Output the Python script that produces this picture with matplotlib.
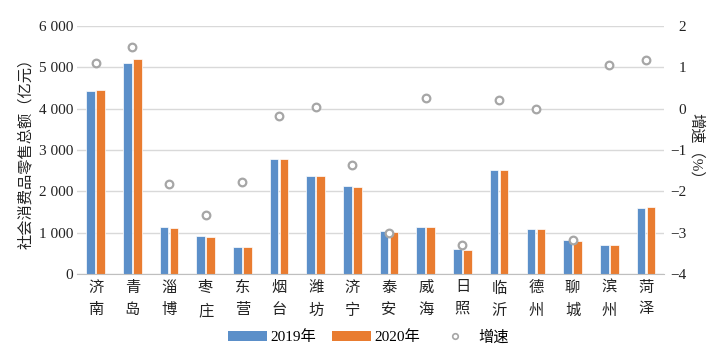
import matplotlib.pyplot as plt
import numpy as np
from matplotlib.patches import Patch
from matplotlib.lines import Line2D
from matplotlib.ticker import FuncFormatter

plt.rcParams['font.family'] = ['Liberation Serif', 'Noto Sans CJK SC']
plt.rcParams['axes.unicode_minus'] = True

cities = ["济南", "青岛", "淄博", "枣庄", "东营", "烟台", "潍坊", "济宁",
          "泰安", "威海", "日照", "临沂", "德州", "聊城", "滨州", "菏泽"]
sales_2019 = [4420, 5110, 1140, 910, 650, 2790, 2380, 2140,
              1040, 1150, 600, 2510, 1100, 820, 700, 1610]
sales_2020 = [4450, 5190, 1120, 890, 645, 2785, 2380, 2110,
              1010, 1150, 575, 2510, 1100, 790, 700, 1625]
growth = [1.11, 1.49, -1.82, -2.56, -1.77, -0.18, 0.05, -1.37,
          -3.0, 0.27, -3.29, 0.21, 0.0, -3.18, 1.06, 1.18]

blue = "#5B8FC9"
orange = "#E97C30"
grey = "#A6A6A6"

fig = plt.figure(figsize=(7.22, 3.56), dpi=100)
ax = fig.add_axes([0.107, 0.230, 0.813, 0.697])

x = np.arange(len(cities))
w = 0.235
ax.bar(x - 0.136, sales_2019, w, color=blue, edgecolor="white", linewidth=0.5, zorder=2)
ax.bar(x + 0.136, sales_2020, w, color=orange, edgecolor="white", linewidth=0.5, zorder=2)

ax.set_xlim(-0.5, len(cities) - 0.5)
ax.set_ylim(0, 6000)
ax.set_yticks(range(0, 6001, 1000))
ax.yaxis.set_major_formatter(FuncFormatter(lambda v, p: f"{int(v):,}".replace(",", " ")))
ax.set_xticks(x)
ax.set_xticklabels(["\n".join(c) for c in cities], linespacing=1.75, fontsize=11.5)
ax.grid(axis="y", color="#D9D9D9", linewidth=1, zorder=0)
ax.set_axisbelow(True)
for s in ["top", "right", "left"]:
    ax.spines[s].set_visible(False)
ax.spines["bottom"].set_color("#BFBFBF")
ax.tick_params(axis="both", length=0, labelsize=11, colors="#222222")
ax.tick_params(axis="x", pad=5)
ax.tick_params(axis="y", pad=3)
ax.set_ylabel("社会消费品零售总额（亿元）", fontsize=11, color="#222222", labelpad=4)

ax2 = ax.twinx()
ax2.plot(x, growth, linestyle="none", marker="o", markersize=5.5,
         markerfacecolor="white", markeredgecolor=grey, markeredgewidth=1.6, zorder=3)
ax2.set_ylim(-4, 2)
ax2.set_yticks(range(-4, 3))
for s in ["top", "right", "left", "bottom"]:
    ax2.spines[s].set_visible(False)
ax2.tick_params(axis="y", length=0, labelsize=11, colors="#222222", pad=16)
for lbl in ax2.get_yticklabels():
    lbl.set_horizontalalignment("right")
ax2.set_ylabel("增速（%）", fontsize=11, color="#222222", rotation=270, va="center")
ax2.yaxis.set_label_coords(1.055, 0.5)

handles = [Patch(facecolor=blue), Patch(facecolor=orange),
           Line2D([], [], linestyle="none", marker="o", markersize=4,
                  markerfacecolor="white", markeredgecolor=grey, markeredgewidth=1.2)]
fig.legend(handles, ["2019年", "2020年", "增速"], loc="center", bbox_to_anchor=(0.51, 0.053),
           ncol=3, frameon=False, fontsize=11, handlelength=2.6, handleheight=0.6,
           handletextpad=0.2, columnspacing=1.0)

fig.savefig("out.png", dpi=100)
